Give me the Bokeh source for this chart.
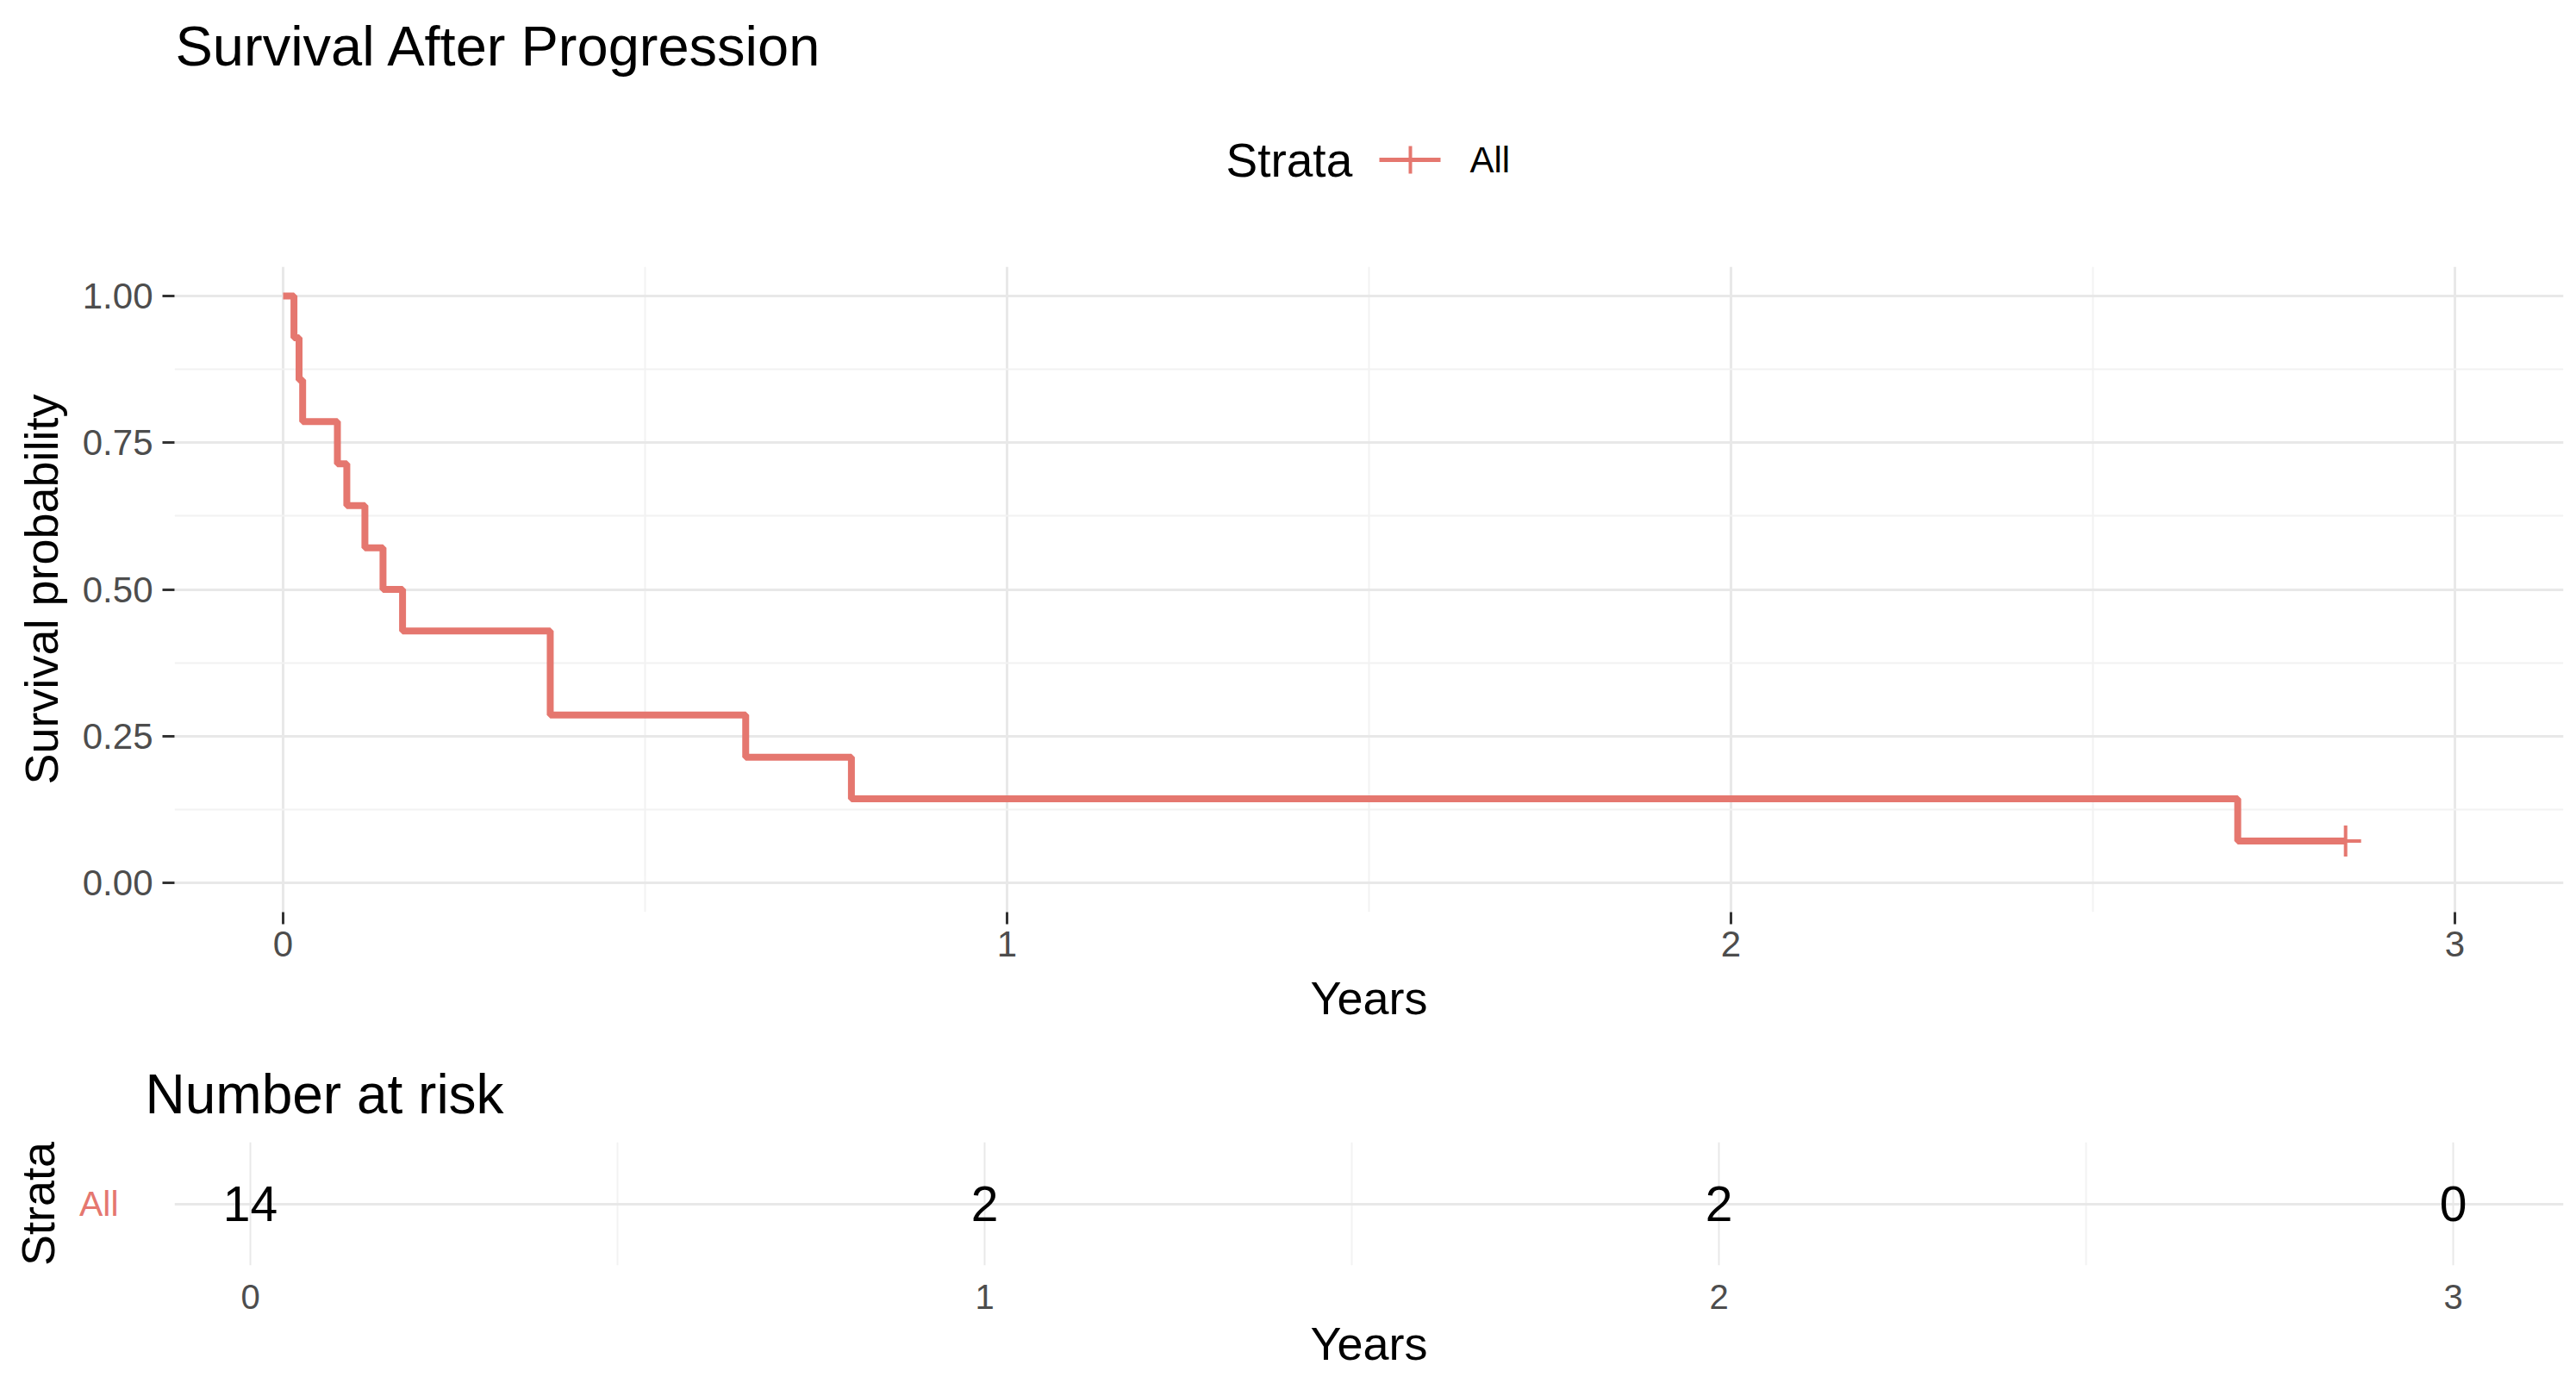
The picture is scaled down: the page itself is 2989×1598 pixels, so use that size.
from bokeh.plotting import figure
from bokeh.layouts import column
from bokeh.models import Range1d, FixedTicker, FactorRange, ColumnDataSource, Label
from bokeh.core.properties import value
from bokeh.embed import file_html
from bokeh.resources import INLINE

# ---------------- data ----------------
title_text = "Survival After Progression"
table_title = "Number at risk"
legend_title = "Strata"
strata = ["All"]
time = [0.0, 0.015, 0.022, 0.027, 0.075, 0.088, 0.113, 0.138, 0.165, 0.369, 0.639, 0.785, 2.700, 2.849]
surv = [1.0, 0.929, 0.857, 0.786, 0.714, 0.643, 0.571, 0.500, 0.429, 0.286, 0.214, 0.143, 0.071, 0.071]
cens_time = [2.849]
cens_surv = [0.071]
x_ticks = [0, 1, 2, 3]
x_minor = [0.5, 1.5, 2.5]
x_tick_labels = ["0", "1", "2", "3"]
y_ticks = [0.0, 0.25, 0.5, 0.75, 1.0]
y_minor = [0.125, 0.375, 0.625, 0.875]
y_tick_labels = ["0.00", "0.25", "0.50", "0.75", "1.00"]
risk_time = [0, 1, 2, 3]
risk_n = [14, 2, 2, 0]

# ---------------- style ----------------
FONT = "Liberation Sans"
CURVE = "#E5776F"
GRID = "#E8E8E8"
GRID_MINOR = "#F2F2F2"
TICK_TXT = "#4D4D4D"
W = 2989
BL, BR = 202, 15          # frame left / right borders shared by all figures
FR = W - BR               # frame right edge in page px


def base_fig(w, h, **kw):
    p = figure(width=w, height=h, output_backend="svg", toolbar_location=None, **kw)
    p.outline_line_color = None
    p.background_fill_color = "white"
    p.border_fill_color = "white"
    return p


def lab(fig, x, y, text, size, color="#000000"):
    fig.add_layout(Label(x=x, y=y, text=text, text_font=FONT, text_font_size=size,
                         text_color=color, text_baseline="middle", text_align="left"))


# ---------------- header (title + legend) ----------------
HH = 290
hdr = base_fig(W, HH, x_range=Range1d(BL, FR), y_range=Range1d(HH, 0),
               x_axis_type=None, y_axis_type=None,
               min_border_left=BL, min_border_right=BR, min_border_top=0, min_border_bottom=0)
hdr.grid.visible = False
lab(hdr, 203, 53, title_text, "65px")
lab(hdr, 1422, 185, legend_title, "55px")
hdr.line(x=[1600, 1671], y=[185, 185], line_color=CURVE, line_width=5)
hdr.scatter(x=[1636], y=[185], marker="cross", size=32, line_color=CURVE, line_width=4)
lab(hdr, 1705, 185, strata[0], "42px")

# ---------------- main survival plot ----------------
p = base_fig(W, 905, x_range=Range1d(-0.15, 3.15), y_range=Range1d(-0.05, 1.05),
             min_border_left=BL, min_border_right=BR, min_border_top=19, min_border_bottom=137)
p.step(x=time, y=surv, mode="after", line_color=CURVE, line_width=8)
p.scatter(x=cens_time, y=cens_surv, marker="cross", size=36, line_color=CURVE, line_width=4)

p.xaxis.ticker = FixedTicker(ticks=x_ticks, minor_ticks=x_minor)
p.yaxis.ticker = FixedTicker(ticks=y_ticks, minor_ticks=y_minor)
p.xaxis.major_label_overrides = {t: l for t, l in zip(x_ticks, x_tick_labels)}
p.yaxis.major_label_overrides = {t: l for t, l in zip(y_ticks, y_tick_labels)}
p.xaxis.axis_label = "Years"
p.yaxis.axis_label = "Survival probability"
for ax in (p.xaxis, p.yaxis):
    ax.axis_line_color = None
    ax.major_tick_line_color = "#333333"
    ax.major_tick_line_width = 3
    ax.major_tick_out = 14
    ax.major_tick_in = 0
    ax.minor_tick_line_color = None
    ax.major_label_text_font = FONT
    ax.major_label_text_font_size = "42px"
    ax.major_label_text_color = TICK_TXT
    ax.axis_label_text_font = FONT
    ax.axis_label_text_font_size = "54px"
    ax.axis_label_text_font_style = "normal"
    ax.axis_label_text_color = "#000000"
p.xaxis.major_label_standoff = 8
p.xaxis.axis_label_standoff = 15
p.yaxis.major_label_standoff = 11
p.yaxis.axis_label_standoff = 15
for g in (p.xgrid, p.ygrid):
    g.grid_line_color = GRID
    g.grid_line_width = 3
    g.minor_grid_line_color = GRID_MINOR
    g.minor_grid_line_width = 2

# ---------------- risk table ----------------
src = ColumnDataSource(dict(x=risk_time, y=strata * len(risk_time), t=[str(n) for n in risk_n]))
tb = base_fig(W, 403, x_range=Range1d(-0.1033, 3.15), y_range=FactorRange(factors=strata),
              min_border_left=BL, min_border_right=BR, min_border_top=130, min_border_bottom=130,
              title=table_title)
tb.title.align = "left"
tb.title.offset = -34
tb.title.standoff = 40
tb.title.text_font = FONT
tb.title.text_font_size = "64px"
tb.title.text_font_style = "normal"
tb.title.text_color = "#000000"
tb.text(x="x", y="y", text="t", source=src, text_font=value(FONT), text_font_size="57px",
        text_align="center", text_baseline="middle", text_color="#000000")
tb.xaxis.ticker = FixedTicker(ticks=x_ticks, minor_ticks=x_minor)
tb.xaxis.major_label_overrides = {t: l for t, l in zip(x_ticks, x_tick_labels)}
tb.xaxis.axis_label = "Years"
tb.yaxis.axis_label = "Strata"
for ax in (tb.xaxis, tb.yaxis):
    ax.axis_line_color = None
    ax.major_tick_line_color = None
    ax.major_tick_out = 0
    ax.major_tick_in = 0
    ax.minor_tick_line_color = None
    ax.major_label_text_font = FONT
    ax.axis_label_text_font = FONT
    ax.axis_label_text_font_size = "54px"
    ax.axis_label_text_font_style = "normal"
    ax.axis_label_text_color = "#000000"
tb.xaxis.major_label_text_font_size = "40px"
tb.xaxis.major_label_text_color = TICK_TXT
tb.yaxis.major_label_text_font_size = "41px"
tb.yaxis.major_label_text_color = CURVE
tb.xaxis.major_label_standoff = 18
tb.xaxis.axis_label_standoff = 7
tb.yaxis.major_label_standoff = 65
tb.yaxis.axis_label_standoff = 15
tb.xgrid.grid_line_color = GRID
tb.xgrid.grid_line_width = 2
tb.xgrid.minor_grid_line_color = GRID_MINOR
tb.xgrid.minor_grid_line_width = 2
tb.ygrid.grid_line_color = GRID
tb.ygrid.grid_line_width = 3

layout = column(hdr, p, tb, spacing=0)
open("out.html", "w").write(file_html(layout, INLINE))
